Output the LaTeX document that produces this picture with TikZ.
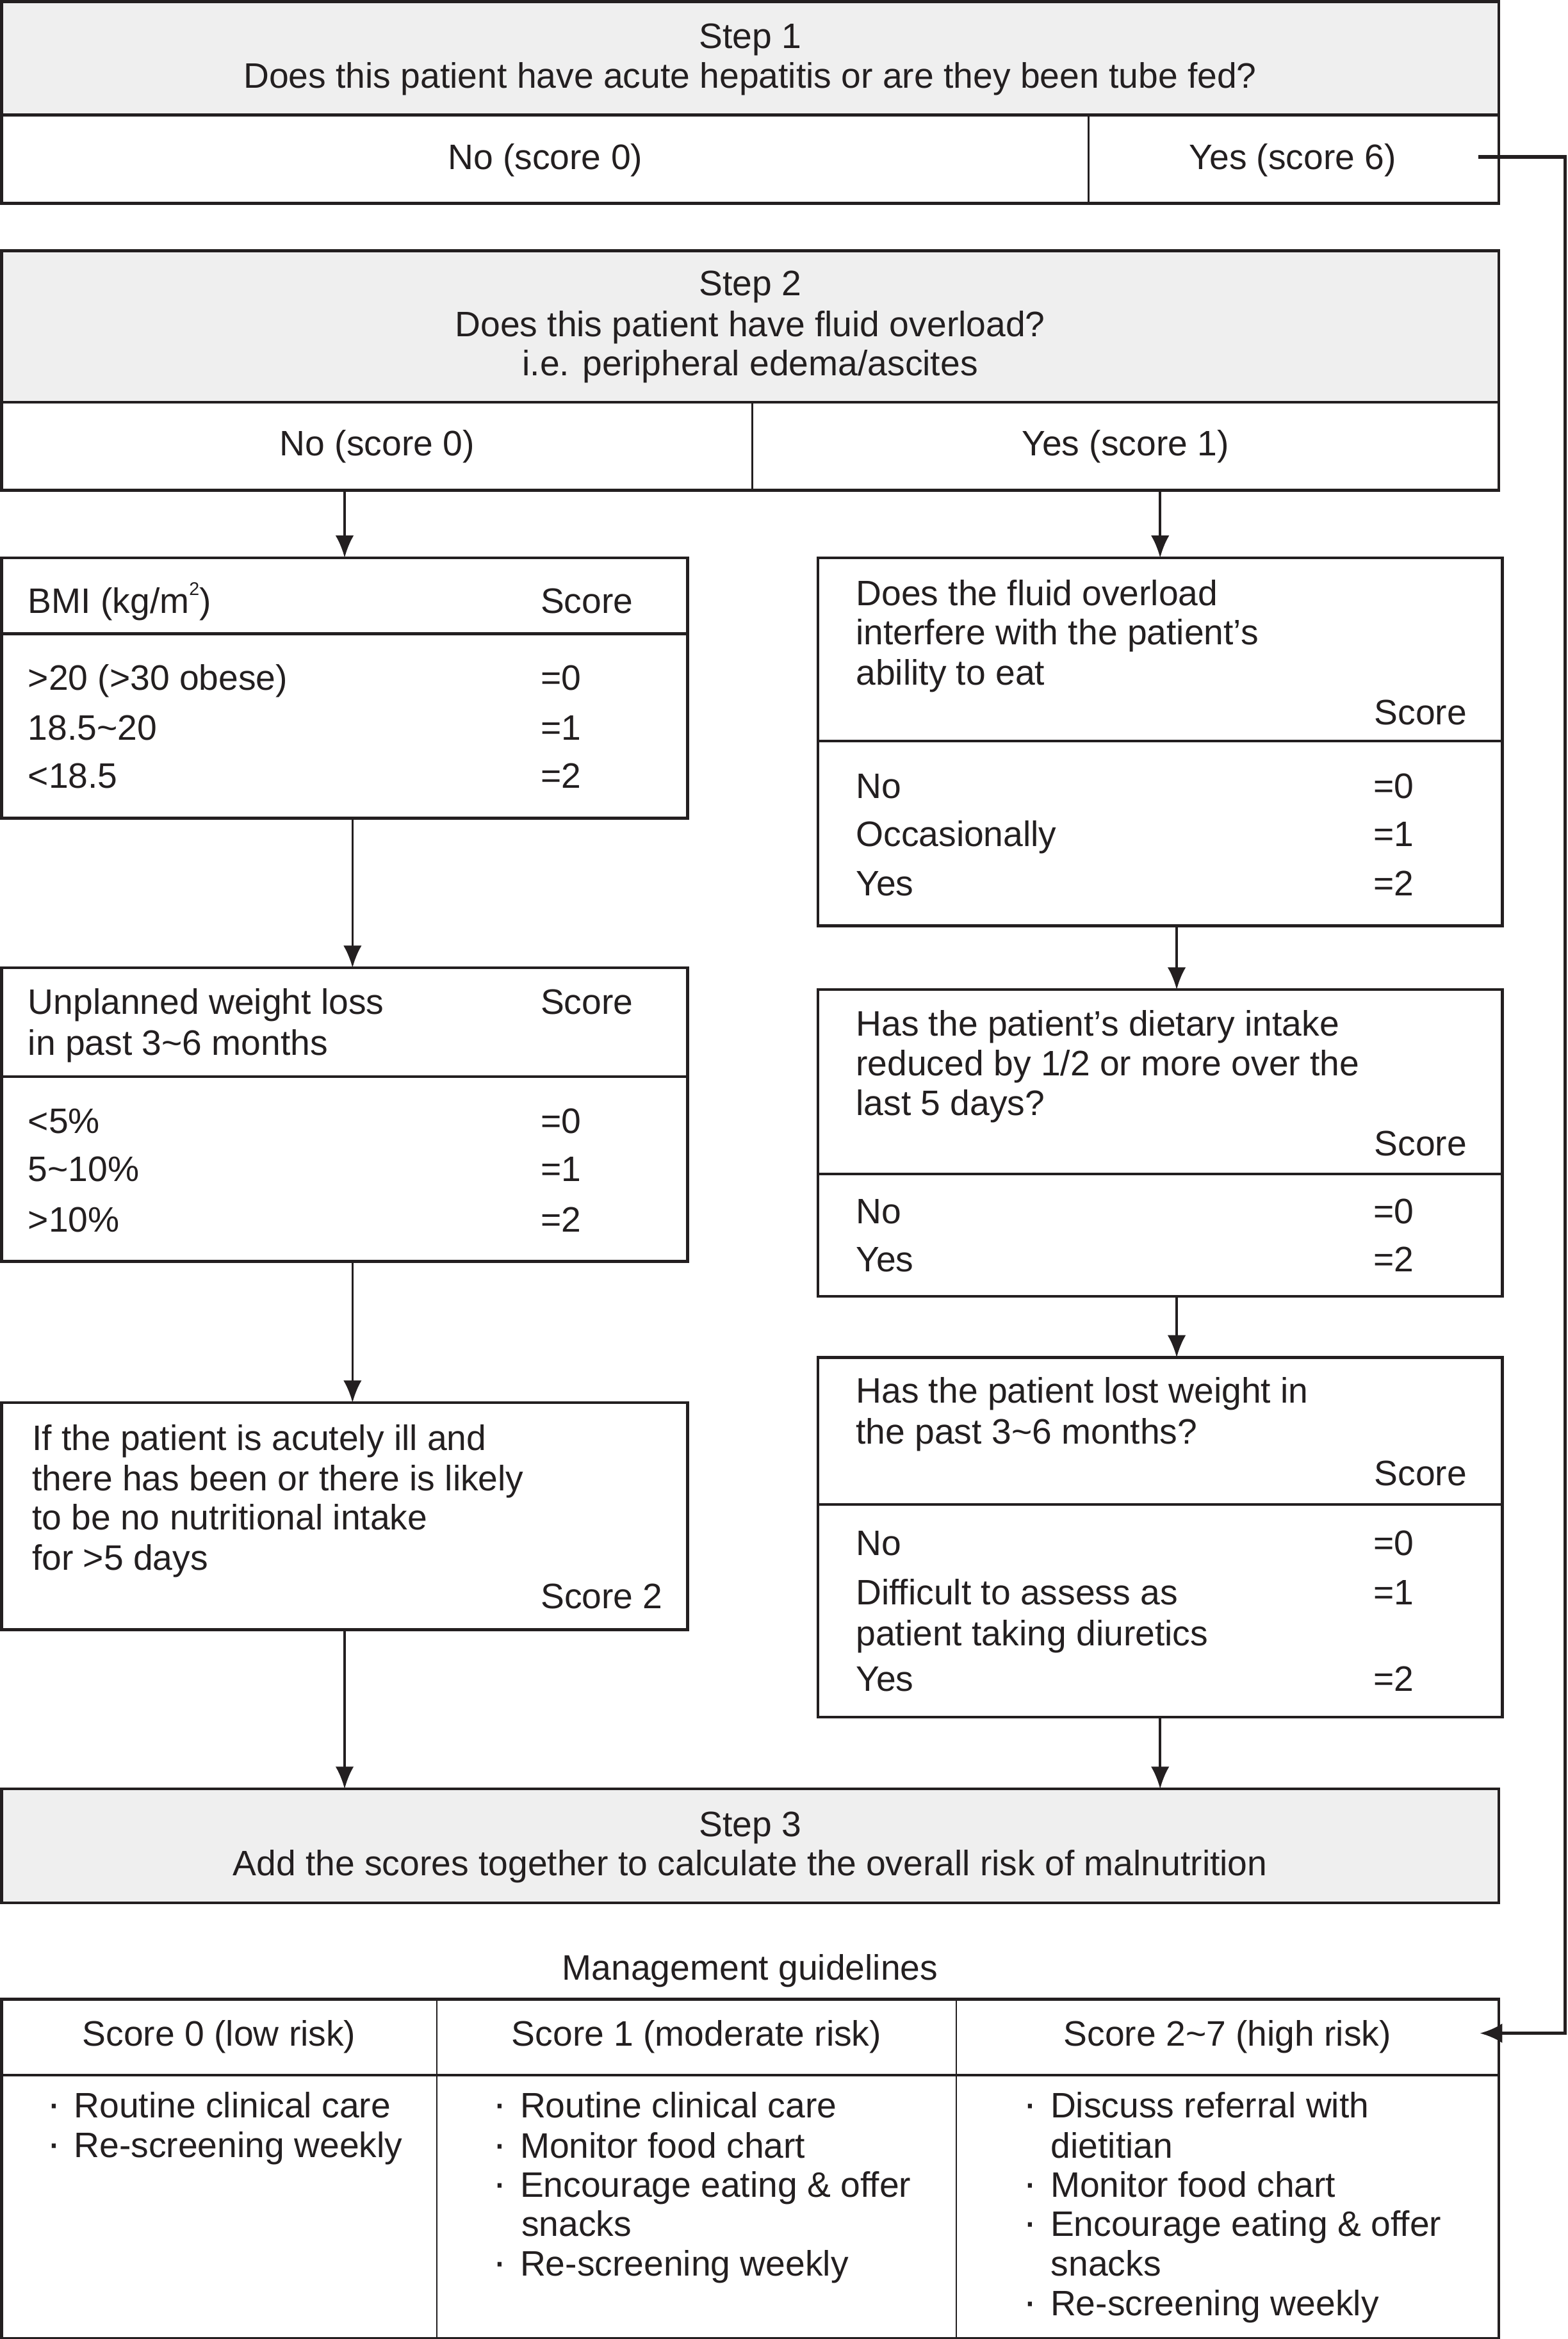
\documentclass[tikz,border=0pt]{standalone}
\usepackage{fontspec}
\setmainfont{Liberation Sans}
\usetikzlibrary{arrows.meta}
\definecolor{txt}{HTML}{231F20}
\definecolor{hdr}{HTML}{EFEFEF}
\newcommand\boxnode[6]{\node[boxframe,#6,minimum width={(#4-#2)*0.02cm},minimum height={(#5-#3)*0.02cm}] (#1) at (#2,#3) {};}
\newcommand\fillnode[5]{\node[anchor=north west,fill=hdr,minimum width={(#4-#2)*0.02cm},minimum height={(#5-#3)*0.02cm}] (#1) at (#2,#3) {};}
\newcommand\mybul{{\fontsize{16pt}{15pt}\selectfont ·}\kern5pt}
\newcommand\mysq{\raisebox{0.5em}{\fontsize{7pt}{7pt}\selectfont 2}}
\begin{document}
\begin{tikzpicture}[x=0.02cm,y=-0.02cm,
  every node/.style={font=\fontsize{13.5pt}{15pt}\selectfont, text=txt, inner sep=0pt, outer sep=0pt},
  lbl/.style={anchor=base west, yshift=-0.17cm},
  lblc/.style={anchor=base, yshift=-0.17cm},
  lblr/.style={anchor=base east, yshift=-0.17cm},
  boxframe/.style={draw=txt, line width=1.1pt, anchor=north west},
  divthick/.style={draw=txt, line width=1.1pt},
  divthin/.style={draw=txt, line width=0.6pt},
  arr/.style={draw=txt, line width=0.9pt, -{Latex[length=8.5pt,width=7pt]}},
  arrbig/.style={draw=txt, line width=1.3pt, -{Latex[length=8.5pt,width=7.5pt]}}
]
\useasboundingbox (0,0) rectangle (1051,1568);

% ---------- Step 1 ----------
\fillnode{steponehead}{1}{1.1}{1004.6}{77.1}
\boxnode{stepone}{1}{1.1}{1004.6}{136.3}{}
\draw[divthick] (steponehead.south west) -- (steponehead.south east);
\draw[divthin] (729.6,77.1) -- (729.6,136.3);
\node[lblc] (s1t) at (502.8,24.1) {Step 1};
\node[lblc] (s1q) at (502.8,50.4) {Does this patient have acute hepatitis or are they been tube fed?};
\node[lblc] (s1no) at (365.5,105.2) {No (score 0)};
\node[lblc] (s1yes) at (866.5,105.2) {Yes (score 6)};
\coordinate (yesout) at (991,105.2);

% ---------- Step 2 ----------
\fillnode{steptwohead}{1}{168.1}{1004.6}{269.6}
\boxnode{steptwo}{1}{168.1}{1004.6}{328.7}{}
\draw[divthick] (steptwohead.south west) -- (steptwohead.south east);
\draw[divthin] (504.3,269.6) -- (504.3,328.7);
\node[lblc] (s2t) at (502.8,189.6) {Step 2};
\node[lblc] (s2q) at (502.8,217) {Does this patient have fluid overload?};
\node[lblc] (s2ie) at (502.8,243.3) {i.e. peripheral edema/ascites};
\node[lblc] (s2no) at (252.8,297) {No (score 0)};
\node[lblc] (s2yes) at (754.4,297) {Yes (score 1)};

% ---------- BMI ----------
\boxnode{bmi}{1}{373.9}{461}{548.4}{}
\draw[divthick] (1,424.8) -- (461,424.8);
\node[lbl] (bmih) at (18.8,402.4) {BMI (kg/m\mysq)};
\node[lbl] (bmis) at (362.4,402.4) {Score};
\node[lbl] (bmia) at (18.8,454) {>20 (>30 obese)};
\node[lbl] (bmiav) at (362.4,454) {=0};
\node[lbl] (bmib) at (18.8,487.5) {18.5\textasciitilde 20};
\node[lbl] (bmibv) at (362.4,487.5) {=1};
\node[lbl] (bmic) at (18.8,519.9) {<18.5};
\node[lbl] (bmicv) at (362.4,519.9) {=2};

% ---------- Weight loss ----------
\boxnode{wl}{1}{648.8}{461}{845.7}{}
\draw[divthick] (1,721.8) -- (461,721.8);
\node[lbl] (wlh1) at (18.8,671.2) {Unplanned weight loss};
\node[lbl] (wlh2) at (18.8,698.7) {in past 3\textasciitilde 6 months};
\node[lbl] (wls) at (362.4,671.2) {Score};
\node[lbl] (wla) at (18.8,751.4) {<5\%};
\node[lbl] (wlav) at (362.4,751.4) {=0};
\node[lbl] (wlb) at (18.8,783.4) {5\textasciitilde 10\%};
\node[lbl] (wlbv) at (362.4,783.4) {=1};
\node[lbl] (wlc) at (18.8,817.3) {>10\%};
\node[lbl] (wlcv) at (362.4,817.3) {=2};

% ---------- Acute ----------
\boxnode{acute}{1}{940.3}{461}{1092.4}{}
\node[lbl] (ac1) at (21.5,963.7) {If the patient is acutely ill and};
\node[lbl] (ac2) at (21.5,990.9) {there has been or there is likely};
\node[lbl] (ac3) at (21.5,1017.2) {to be no nutritional intake};
\node[lbl] (ac4) at (21.5,1043.9) {for >5 days};
\node[lblr] (acs) at (444.2,1069.8) {Score 2};

% ---------- Fluid ----------
\boxnode{fluid}{548.3}{373.9}{1007}{620.7}{}
\draw[divthick] (548.3,496.7) -- (1007,496.7);
\node[lbl] (fl1) at (573.8,397.4) {Does the fluid overload};
\node[lbl] (fl2) at (573.8,423.7) {interfere with the patient’s};
\node[lbl] (fl3) at (573.8,450.8) {ability to eat};
\node[lblr] (fls) at (983.2,477.1) {Score};
\node[lbl] (fla) at (573.8,526.6) {No};
\node[lbl] (flav) at (920.8,526.6) {=0};
\node[lbl] (flb) at (573.8,559) {Occasionally};
\node[lbl] (flbv) at (920.8,559) {=1};
\node[lbl] (flc) at (573.8,591.8) {Yes};
\node[lbl] (flcv) at (920.8,591.8) {=2};

% ---------- Diet ----------
\boxnode{diet}{548.3}{663.4}{1007}{868.9}{}
\draw[divthick] (548.3,787) -- (1007,787);
\node[lbl] (di1) at (573.8,685.8) {Has the patient’s dietary intake};
\node[lbl] (di2) at (573.8,712.5) {reduced by 1/2 or more over the};
\node[lbl] (di3) at (573.8,739.3) {last 5 days?};
\node[lblr] (dis) at (983.2,766.3) {Score};
\node[lbl] (dia) at (573.8,811.9) {No};
\node[lbl] (diav) at (920.8,811.9) {=0};
\node[lbl] (dib) at (573.8,844) {Yes};
\node[lbl] (dibv) at (920.8,844) {=2};

% ---------- Lost weight ----------
\boxnode{lost}{548.3}{910}{1007}{1151}{}
\draw[divthick] (548.3,1008.6) -- (1007,1008.6);
\node[lbl] (lo1) at (573.8,931.9) {Has the patient lost weight in};
\node[lbl] (lo2) at (573.8,959.3) {the past 3\textasciitilde 6 months?};
\node[lblr] (los) at (983.2,987.2) {Score};
\node[lbl] (loa) at (573.8,1034) {No};
\node[lbl] (loav) at (920.8,1034) {=0};
\node[lbl] (lob) at (573.8,1067.3) {Difficult to assess as};
\node[lbl] (lob2) at (573.8,1094.9) {patient taking diuretics};
\node[lbl] (lobv) at (920.8,1067.3) {=1};
\node[lbl] (loc) at (573.8,1125.2) {Yes};
\node[lbl] (locv) at (920.8,1125.2) {=2};

% ---------- Step 3 ----------
\boxnode{stepthree}{1}{1199.2}{1004.6}{1275.6}{fill=hdr}
\node[lblc] (s3t) at (502.8,1222.6) {Step 3};
\node[lblc] (s3q) at (502.8,1249) {Add the scores together to calculate the overall risk of malnutrition};

% ---------- Management ----------
\node[lblc] (mgt) at (502.8,1318.7) {Management guidelines};
\boxnode{mg}{1}{1340.3}{1004.6}{1567.5}{}
\draw[divthick] (1,1391) -- (1004.6,1391);
\draw[divthin] (292.9,1340.3) -- (292.9,1567.5);
\draw[divthin] (640.9,1340.3) -- (640.9,1567.5);
\node[lblc] (mh1) at (146.9,1363) {Score 0 (low risk)};
\node[lblc] (mh2) at (466.9,1363) {Score 1 (moderate risk)};
\node[lblc] (mh3) at (822.8,1363) {Score 2\textasciitilde 7 (high risk)};
\coordinate (hrin) at (992,1363);

\node[lbl] (c1a) at (31.5,1411) {\mybul Routine clinical care};
\node[lbl] (c1b) at (31.5,1437.9) {\mybul Re-screening weekly};

\node[lbl] (c2a) at (330.5,1411) {\mybul Routine clinical care};
\node[lbl] (c2b) at (330.5,1438) {\mybul Monitor food chart};
\node[lbl] (c2c) at (330.5,1464.3) {\mybul Encourage eating \& offer};
\node[lbl] (c2d) at (349.5,1490.7) {snacks};
\node[lbl] (c2e) at (330.5,1517.1) {\mybul Re-screening weekly};

\node[lbl] (c3a) at (686,1411) {\mybul Discuss referral with};
\node[lbl] (c3b) at (704.5,1438) {dietitian};
\node[lbl] (c3c) at (686,1464.3) {\mybul Monitor food chart};
\node[lbl] (c3d) at (686,1490.7) {\mybul Encourage eating \& offer};
\node[lbl] (c3e) at (704.5,1517.1) {snacks};
\node[lbl] (c3f) at (686,1544) {\mybul Re-screening weekly};

% ---------- Connectors ----------
\draw[arr] (bmi.north |- steptwo.south) -- (bmi.north);
\draw[arr] ([xshift=0.106cm]bmi.south) -- ([xshift=0.106cm]wl.north);
\draw[arr] ([xshift=0.106cm]wl.south) -- ([xshift=0.106cm]acute.north);
\draw[arr] (acute.south) -- (acute.south |- stepthree.north);
\draw[arr] (fluid.north |- steptwo.south) -- (fluid.north);
\draw[arr] ([xshift=0.222cm]fluid.south) -- ([xshift=0.222cm]diet.north);
\draw[arr] ([xshift=0.222cm]diet.south) -- ([xshift=0.222cm]lost.north);
\draw[arr] (lost.south) -- (lost.south |- stepthree.north);
\draw[arrbig] (yesout) -- ++(58,0) |- (hrin);
\end{tikzpicture}
\end{document}
